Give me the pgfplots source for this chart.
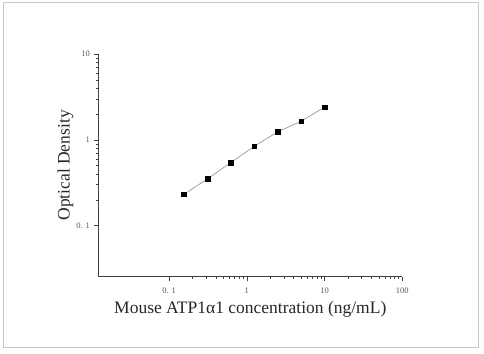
\documentclass[border=0pt]{standalone}
\usepackage{pgfplots}
\pgfplotsset{compat=1.18}
\usepackage{fontspec}
\setmainfont{Liberation Serif}
\begin{document}
\begin{tikzpicture}
\useasboundingbox (0pt,0pt) rectangle (484pt,353pt);
\draw[black!22,line width=0.8pt] (3pt,6pt) rectangle (478pt,351pt);
\begin{axis}[
  at={(98.3pt,76.3pt)}, anchor=south west,
  scale only axis, width=304pt, height=222.7pt,
  xmode=log, ymode=log,
  xmin=0.0123, xmax=100, ymin=0.0255, ymax=10,
  axis x line*=bottom, axis y line*=left,
  axis line style={black!75, line width=0.8pt},
  tick align=outside,
  major tick length=4pt, minor tick length=2pt,
  every tick/.style={black!75, line width=0.6pt},
  xtick={0.1,1,10,100}, xticklabels={0. 1,1,10,100},
  ytick={0.1,1,10}, yticklabels={0. 1,1,10},
  ticklabel style={font=\fontsize{8.5}{9}\selectfont, text=black!65},
  xticklabel style={yshift=-4pt},
  yticklabel style={xshift=-1pt},
  xlabel={Mouse ATP1α1 concentration (ng/mL)},
  ylabel={Optical Density},
  label style={font=\fontsize{17.5}{19}\selectfont, text=black!85},
  xlabel style={yshift=0pt},
  ylabel style={yshift=-4pt},
  clip=false,
]
\addplot[black!45, line width=0.6pt, mark=square*, mark size=2.3pt,
  mark options={black, fill=black}] coordinates {
  (0.156,0.233) (0.3125,0.352) (0.625,0.545) (1.25,0.844)
  (2.5,1.24) (5,1.65) (10,2.40)
};
\end{axis}
\end{tikzpicture}
\end{document}
